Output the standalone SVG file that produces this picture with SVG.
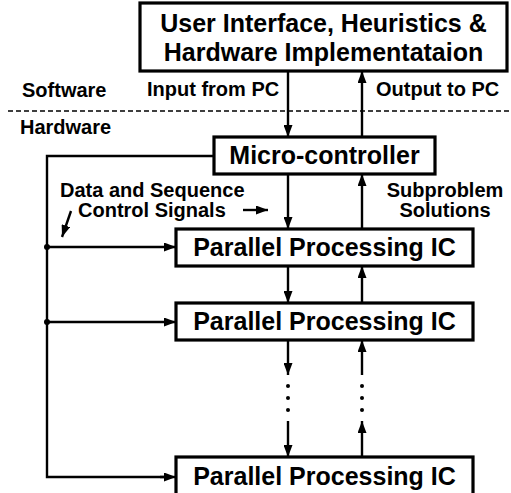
<svg xmlns="http://www.w3.org/2000/svg" width="511" height="493" viewBox="0 0 511 493">
  <defs>
    <marker id="arrow" markerUnits="userSpaceOnUse" markerWidth="13" markerHeight="9" refX="12" refY="4.5" orient="auto">
      <path d="M0,0 L12,4.5 L0,9 z" fill="#000"/>
    </marker>
    <style>
      .box { fill: #fff; stroke: #000; stroke-width: 3.2; }
      .big { font-family: "Liberation Sans", Arial, sans-serif; font-weight: bold; font-size: 25px; text-anchor: middle; fill: #000; }
      .lbl { font-family: "Liberation Sans", Arial, sans-serif; font-weight: bold; font-size: 20px; fill: #000; }
      .wire { fill: none; stroke: #000; stroke-width: 2.4; }
      .arr { fill: none; stroke: #000; stroke-width: 2.4; marker-end: url(#arrow); }
      .dash { fill: none; stroke: #000; stroke-width: 1.6; stroke-dasharray: 5 3; }
    </style>
  </defs>
  <rect width="511" height="493" fill="#fff"/>

  <!-- software / hardware divide -->
  <g id="divide">
    <line class="dash" x1="8" y1="111" x2="511" y2="111"/>
    <text class="lbl" x="22" y="97">Software</text>
    <text class="lbl" x="20" y="134">Hardware</text>
  </g>

  <g id="connectors">
    <!-- PC <-> micro-controller -->
    <line class="arr" x1="288" y1="71" x2="288" y2="137"/>
    <line class="arr" x1="362" y1="137" x2="362" y2="71"/>
    <text class="lbl" x="147" y="96">Input from PC</text>
    <text class="lbl" x="376" y="96">Output to PC</text>

    <!-- micro-controller <-> first IC -->
    <line class="arr" x1="288" y1="174" x2="288" y2="229"/>
    <line class="arr" x1="362" y1="229" x2="362" y2="174"/>
    <text class="lbl" x="60" y="197">Data and Sequence</text>
    <text class="lbl" x="78" y="217">Control Signals</text>
    <line class="arr" x1="243" y1="210" x2="268" y2="210"/>
    <line class="arr" x1="71" y1="211" x2="62" y2="237"/>
    <text class="lbl" x="445" y="197" text-anchor="middle">Subproblem</text>
    <text class="lbl" x="445" y="217" text-anchor="middle">Solutions</text>

    <!-- first IC <-> second IC -->
    <line class="arr" x1="288" y1="266" x2="288" y2="303"/>
    <line class="arr" x1="362" y1="303" x2="362" y2="266"/>

    <!-- second IC ... last IC -->
    <line class="arr" x1="288" y1="340" x2="288" y2="375"/>
    <line class="arr" x1="288" y1="421" x2="288" y2="457"/>
    <line class="arr" x1="362" y1="375" x2="362" y2="340"/>
    <line class="arr" x1="362" y1="457" x2="362" y2="421"/>
    <g fill="#000">
      <circle cx="288" cy="386" r="2"/>
      <circle cx="288" cy="398" r="2"/>
      <circle cx="288" cy="410" r="2"/>
      <circle cx="362" cy="386" r="2"/>
      <circle cx="362" cy="398" r="2"/>
      <circle cx="362" cy="410" r="2"/>
    </g>

    <!-- control bus -->
    <polyline class="wire" points="214,156 47,156 47,477 166,477"/>
    <line class="arr" x1="160" y1="477" x2="176" y2="477"/>
    <line class="arr" x1="47" y1="247" x2="176" y2="247"/>
    <line class="arr" x1="47" y1="322" x2="176" y2="322"/>
    <circle cx="47" cy="247" r="3" fill="#000"/>
    <circle cx="47" cy="322" r="3" fill="#000"/>
  </g>

  <g id="host">
    <rect class="box" x="140" y="3" width="367" height="68"/>
    <text class="big" x="323.5" y="32">User Interface, Heuristics &amp;</text>
    <text class="big" x="323.5" y="61">Hardware Implementataion</text>
  </g>

  <g id="micro">
    <rect class="box" x="214" y="137" width="221" height="37"/>
    <text class="big" x="324.5" y="164">Micro-controller</text>
  </g>

  <g id="ic1">
    <rect class="box" x="176" y="229" width="297" height="37"/>
    <text class="big" x="324.5" y="256">Parallel Processing IC</text>
  </g>

  <g id="ic2">
    <rect class="box" x="176" y="303" width="297" height="37"/>
    <text class="big" x="324.5" y="330">Parallel Processing IC</text>
  </g>

  <g id="icn">
    <rect class="box" x="176" y="457" width="297" height="40"/>
    <text class="big" x="324.5" y="485">Parallel Processing IC</text>
  </g>
</svg>
